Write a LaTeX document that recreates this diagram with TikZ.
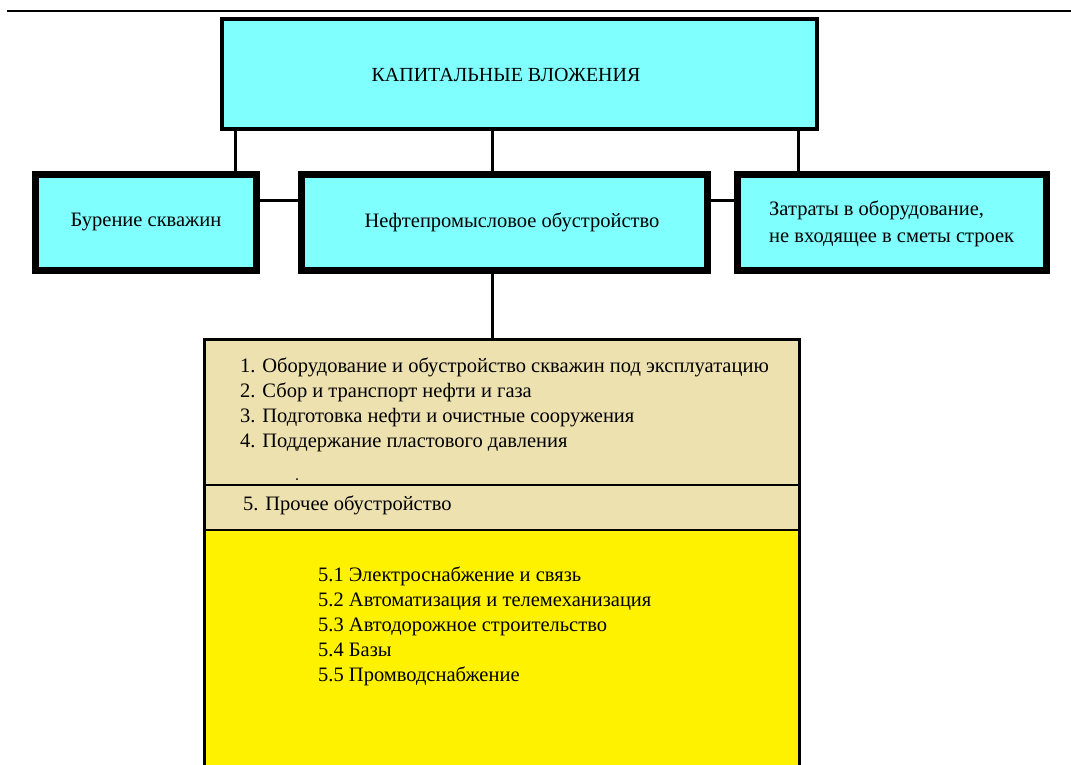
\documentclass[tikz,border=0pt]{standalone}
\usepackage{fontspec}
\setmainfont{Liberation Serif}
\definecolor{boxcyan}{RGB}{128,255,255}
\definecolor{boxtan}{RGB}{238,225,176}
\definecolor{boxyellow}{RGB}{255,242,0}
\begin{document}
\begin{tikzpicture}[x=1pt,y=-1pt,
  topbox/.style={draw,fill=boxcyan,line width=3.5pt,minimum width=595pt,minimum height=110pt,inner sep=0pt},
  midbox/.style={draw,fill=boxcyan,line width=6.5pt,minimum height=96pt,inner sep=0pt},
  secbox/.style={draw,line width=2.5pt,minimum width=595pt,inner sep=0pt},
  conn/.style={line width=3pt},
  txt/.style={font=\fontsize{20.5}{25}\selectfont,inner sep=0pt},
  lst/.style={font=\fontsize{20.5}{25}\selectfont,inner sep=0pt,align=left,anchor=north west}]
\clip (0,0) rectangle (1071,764);
\fill[white] (0,0) rectangle (1071,764);
\coordinate (lineL) at (7,11);
\coordinate (lineR) at (1071,11);
\draw[line width=2pt] (lineL) -- (lineR);
% boxes
\node[topbox] (top) at (519.5,74) {};
\node[midbox,minimum width=221pt] (left) at (146,222.5) {};
\node[midbox,minimum width=406pt] (mid) at (504.5,222.5) {};
\node[midbox,minimum width=309pt] (right) at (892,222.5) {};
\node[secbox,fill=boxtan,minimum height=145.5pt] (sec1) at (502,412.25) {};
\node[secbox,fill=boxtan,minimum height=45pt] (sec2) at (502,507.5) {};
\node[secbox,fill=boxyellow,minimum height=250pt] (sec3) at (502,655) {};
% connectors
\coordinate (c1) at (235,0);
\coordinate (c2) at (492,0);
\coordinate (c3) at (798,0);
\coordinate (h) at (0,200);
\draw[conn] (top.south -| c1) -- (left.north -| c1);
\draw[conn] (top.south -| c2) -- (mid.north -| c2);
\draw[conn] (top.south -| c3) -- (right.north -| c3);
\draw[conn] (left.east |- h) -- (mid.west |- h);
\draw[conn] (mid.east |- h) -- (right.west |- h);
\draw[conn] (mid.south -| c2) -- (sec1.north -| c2);
% texts
\node[txt,font=\fontsize{20}{25}\selectfont] (ttop) at (506,75) {КАПИТАЛЬНЫЕ ВЛОЖЕНИЯ};
\node[txt] (tleft) at (146,222) {Бурение скважин};
\node[txt] (tmid) at (512,222) {Нефтепромысловое обустройство};
\node[lst,anchor=west,font=\fontsize{20.5}{27}\selectfont] (tright) at (769,224) {Затраты в оборудование,\\не входящее в сметы строек};
\node[lst] (tl1) at (240,358) {1. Оборудование и обустройство скважин под эксплуатацию\\2. Сбор и транспорт нефти и газа\\3. Подготовка нефти и очистные сооружения\\4. Поддержание пластового давления};
\fill (297,479) circle (1pt);
\node[lst,anchor=west] (tl5) at (243,505) {5. Прочее обустройство};
\node[lst] (tl6) at (318,567) {5.1 Электроснабжение и связь\\5.2 Автоматизация и телемеханизация\\5.3 Автодорожное строительство\\5.4 Базы\\5.5 Промводснабжение};
\end{tikzpicture}
\end{document}
